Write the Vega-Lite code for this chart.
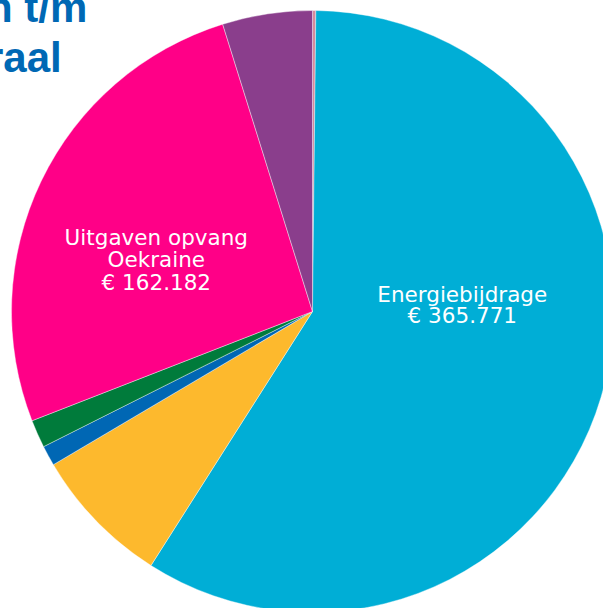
{
  "$schema": "https://vega.github.io/schema/vega-lite/v6.json",
  "autosize": "none",
  "width": 625,
  "height": 623,
  "padding": {"left": 0, "top": 0, "right": -22, "bottom": -15},
  "background": "#ffffff",
  "config": {"view": {"stroke": null}},
  "title": {
    "text": ["n t/m", "\u00a0raal"],
    "anchor": "start",
    "frame": "group",
    "orient": "top",
    "baseline": "top",
    "offset": 0,
    "dy": 81,
    "dx": -13,
    "font": "Liberation Sans",
    "fontSize": 42,
    "fontWeight": "bold",
    "color": "#0068B4",
    "lineHeight": 50
  },
  "data": {
    "values": [
      {"cat": "Overig roze", "value": 1100, "idx": 0, "label": ""},
      {"cat": "Energiebijdrage", "value": 365771, "idx": 1, "label": "Energiebijdrage\n€ 365.771"},
      {"cat": "Overig geel", "value": 46550, "idx": 2, "label": ""},
      {"cat": "Overig donkerblauw", "value": 6740, "idx": 3, "label": ""},
      {"cat": "Overig groen", "value": 9330, "idx": 4, "label": ""},
      {"cat": "Uitgaven opvang Oekraine", "value": 162182, "idx": 5, "label": "Uitgaven opvang\nOekraine\n€ 162.182"},
      {"cat": "Overig paars", "value": 29980, "idx": 6, "label": ""}
    ]
  },
  "encoding": {
    "theta": {"field": "value", "type": "quantitative", "stack": true},
    "order": {"field": "idx", "type": "quantitative"}
  },
  "layer": [
    {
      "mark": {"type": "arc", "outerRadius": 301, "stroke": "#ffffff", "strokeWidth": 0.4},
      "encoding": {
        "color": {
          "field": "cat",
          "type": "nominal",
          "legend": null,
          "scale": {
            "domain": ["Overig roze", "Energiebijdrage", "Overig geel", "Overig donkerblauw", "Overig groen", "Uitgaven opvang Oekraine", "Overig paars"],
            "range": ["#D68A9C", "#00AED6", "#FDB92D", "#0067B4", "#007B3B", "#FF0087", "#8A3E8C"]
          }
        }
      }
    },
    {
      "mark": {"type": "text", "radius": 150, "dx": 6, "dy": -58, "font": "DejaVu Sans", "fontSize": 21.5, "fill": "#ffffff", "lineBreak": "\n", "lineHeight": 21, "align": "center", "baseline": "middle"},
      "encoding": {
        "text": {"condition": {"test": "datum.cat === 'Energiebijdrage'", "field": "label"}, "value": ""}
      }
    },
    {
      "mark": {"type": "text", "radius": 170, "dx": -3, "dy": 1, "font": "DejaVu Sans", "fontSize": 21.5, "fill": "#ffffff", "lineBreak": "\n", "lineHeight": 22.5, "align": "center", "baseline": "middle"},
      "encoding": {
        "text": {"condition": {"test": "datum.cat === 'Uitgaven opvang Oekraine'", "field": "label"}, "value": ""}
      }
    }
  ]
}
